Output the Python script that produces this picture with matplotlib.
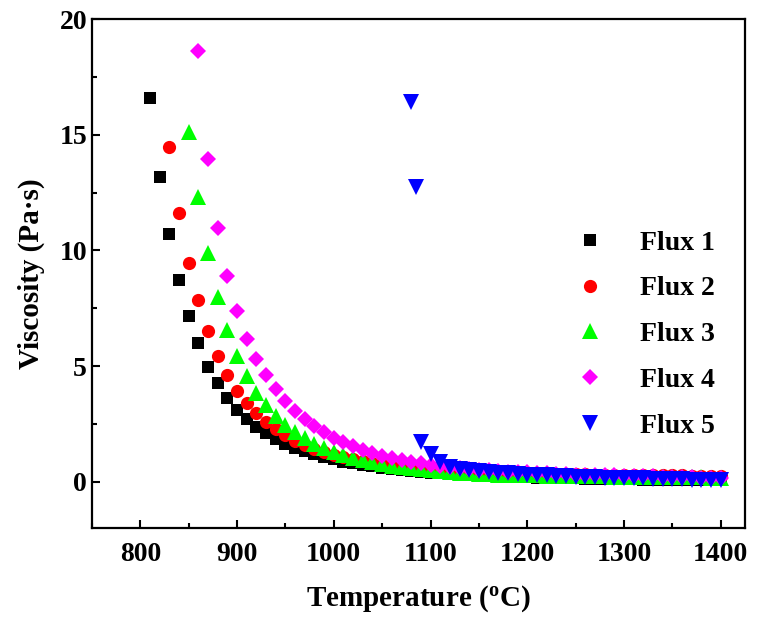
import numpy as np
import matplotlib
matplotlib.use("Agg")
import matplotlib.pyplot as plt

plt.rcParams["font.family"]=["Liberation Serif","DejaVu Serif"]
plt.rcParams["font.weight"]="bold"
plt.rcParams["mathtext.fontset"]="custom"
plt.rcParams["mathtext.rm"]="Liberation Serif:bold"
plt.rcParams["mathtext.bf"]="Liberation Serif:bold"
plt.rcParams["mathtext.default"]="bf"

# Flux 1 .. 4 measured every 10 degC, Flux 5 starts at 1080
t1=list(range(810,1401,10))
v1=[16.6,13.15,10.7,8.7,7.15,5.98,4.95,4.25,3.62,3.12,
    2.7,2.38,2.1,1.85,1.64,1.47,1.31,1.18,1.06,0.96,
    0.87,0.79,0.72,0.66,0.6,0.55,0.5,0.46,0.42,0.39,
    0.36,0.33,0.31,0.29,0.27,0.25,0.23,0.22,0.2,0.19,
    0.18,0.17,0.16,0.15,0.14,0.13,0.125,0.12,0.11,0.105,
    0.1,0.095,0.09,0.085,0.08,0.075,0.07,0.065,0.06,0.055]

t2=list(range(830,1401,10))
v2=[14.45,11.6,9.45,7.85,6.5,5.42,4.6,3.93,3.4,2.95,
    2.57,2.26,2.0,1.78,1.59,1.43,1.29,1.17,1.06,0.97,
    0.89,0.82,0.76,0.7,0.65,0.61,0.57,0.53,0.5,0.47,
    0.45,0.43,0.41,0.4,0.39,0.38,0.37,0.36,0.35,0.34,
    0.33,0.33,0.32,0.32,0.31,0.31,0.3,0.3,0.29,0.29,
    0.28,0.28,0.27,0.27,0.26,0.26,0.25,0.25]

t3=list(range(850,1401,10))
v3=[15.1,12.3,9.9,8.0,6.55,5.45,4.55,3.85,3.3,2.83,
    2.45,2.13,1.87,1.65,1.46,1.3,1.16,1.04,0.94,0.85,
    0.77,0.7,0.64,0.58,0.53,0.49,0.45,0.42,0.39,0.36,
    0.34,0.32,0.31,0.3,0.29,0.28,0.27,0.26,0.25,0.25,
    0.24,0.24,0.23,0.23,0.22,0.22,0.21,0.21,0.2,0.2,
    0.2,0.19,0.19,0.19,0.18,0.18]

t4=list(range(860,1401,10))
v4=[18.6,13.95,10.95,8.9,7.4,6.15,5.3,4.6,4.0,3.5,
    3.07,2.7,2.4,2.13,1.9,1.7,1.53,1.38,1.25,1.13,
    1.03,0.94,0.86,0.79,0.73,0.67,0.62,0.58,0.55,0.52,
    0.49,0.46,0.44,0.42,0.4,0.38,0.36,0.34,0.32,0.31,
    0.3,0.29,0.28,0.27,0.26,0.25,0.24,0.23,0.22,0.21,
    0.2,0.19,0.18,0.17,0.16]

t5=[1080,1085]+list(range(1090,1401,10))
v5=[16.4,12.75,1.7,1.2,0.85,0.65,0.55,0.5,0.46,0.42,
    0.39,0.36,0.33,0.31,0.29,0.27,0.25,0.23,0.22,0.2,
    0.19,0.18,0.17,0.16,0.15,0.14,0.13,0.12,0.11,0.1,
    0.09,0.08,0.07,0.06]

labels=["Flux 1","Flux 2","Flux 3","Flux 4","Flux 5"]

fig=plt.figure(figsize=(7.57,6.21),dpi=100)
ax=fig.add_axes([0.1215,0.1498,0.8625,0.8196])

ax.plot(t1,v1,"s",color="black",ms=9,mew=0,label=labels[0])
ax.plot(t2,v2,"o",color="red",ms=9.5,mew=0,label=labels[1])
ax.plot(t3,v3,"^",color="#00ff00",ms=11,mew=0,label=labels[2])
ax.plot(t4,v4,"D",color="magenta",ms=8,mew=0,label=labels[3])
ax.plot(t5,v5,"v",color="blue",ms=11,mew=0,label=labels[4])

ax.set_xlim(750,1425)
ax.set_ylim(-2,20)
ax.set_xticks(range(800,1401,100))
ax.set_xticks(range(750,1425,50),minor=True)
ax.set_yticks([0,5,10,15,20])
ax.set_yticks([2.5,7.5,12.5,17.5],minor=True)
ax.tick_params(which="both",direction="in",width=1.5,labelsize=20)
ax.tick_params(which="major",length=6)
ax.tick_params(which="minor",length=3.5)
ax.tick_params(axis="x",pad=10)
for s in ax.spines.values():
    s.set_linewidth(1.6)

ax.set_xlabel("Temperature ($^{o}$C)",fontsize=21,fontweight="bold",labelpad=12)
ax.set_ylabel("Viscosity (Pa\u00b7s)",fontsize=21,fontweight="bold",labelpad=10.5)

ax.legend(loc="upper left",bbox_to_anchor=(0.72,0.585),frameon=False,
          fontsize=20,handlelength=2.0,handletextpad=0.8,labelspacing=0.73,
          borderpad=0,borderaxespad=0)

fig.savefig("out.png",dpi=100)
